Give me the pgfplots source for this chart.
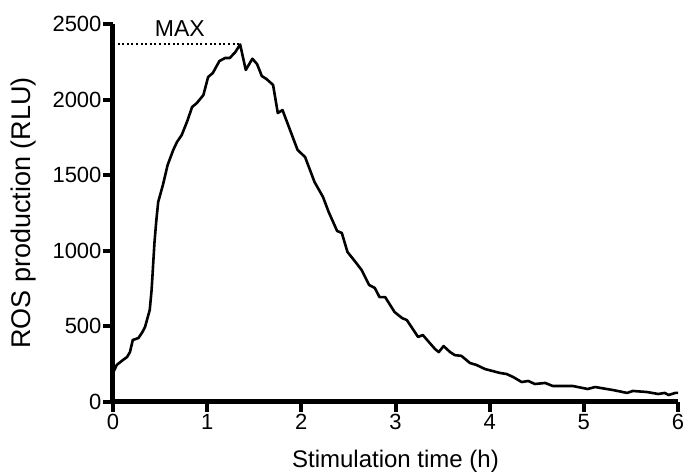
\documentclass[border=0pt]{standalone}
\usepackage{fontspec}
\setmainfont{Liberation Sans}
\usepackage{pgfplots}
\pgfplotsset{compat=1.18}
\usetikzlibrary{calc}

\begin{document}
\begin{tikzpicture}
\begin{axis}[name=ax,width=565pt,height=378pt,scale only axis,
xmin=0,xmax=6,ymin=0,ymax=2500,
xtick={0,1,2,3,4,5,6},ytick={0,500,1000,1500,2000,2500},
axis lines*=left,clip=false,
axis line style={line width=5pt,black},
tick align=outside,major tick length=10pt,
tick style={line width=4pt,black},
/pgf/number format/assume math mode=true,
tick label style={font=\fontsize{22}{26}\selectfont},
xticklabel style={yshift=1pt},
yticklabel style={xshift=2pt},
xlabel={Stimulation time (h)},ylabel={ROS production (RLU)},
xlabel style={font=\fontsize{24}{28}\selectfont,yshift=-13pt},
ylabel style={font=\fontsize{27}{31}\selectfont,yshift=10pt},
scaled y ticks=false,
/pgf/number format/1000 sep={}]
\addplot[black,line width=2.6pt,line join=round] coordinates {
(0.00,192)(0.04,245)(0.10,275)(0.15,298)(0.18,330)(0.21,410)(0.27,423)
(0.31,460)(0.34,496)(0.39,608)(0.41,741)(0.44,1051)(0.46,1200)(0.48,1323)
(0.53,1435)(0.58,1567)(0.64,1667)(0.68,1720)(0.73,1766)(0.79,1860)
(0.84,1951)(0.89,1977)(0.96,2030)(1.01,2149)(1.06,2176)(1.13,2255)
(1.19,2275)(1.24,2275)(1.30,2315)(1.35,2365)(1.41,2196)(1.48,2270)
(1.53,2235)(1.58,2156)(1.63,2136)(1.70,2097)(1.75,1911)(1.80,1931)
(1.88,1799)(1.96,1667)(2.04,1620)(2.14,1455)(2.23,1356)(2.29,1257)
(2.38,1131)(2.43,1118)(2.49,992)(2.57,930)(2.64,873)(2.72,774)
(2.78,754)(2.83,694)(2.89,694)(2.99,595)(3.07,555)(3.12,542)
(3.24,430)(3.29,443)(3.42,350)(3.46,330)(3.51,370)(3.58,330)
(3.63,310)(3.70,305)(3.79,258)(3.86,245)(3.95,218)(4.03,205)
(4.11,192)(4.18,185)(4.25,165)(4.34,132)(4.41,139)(4.48,119)
(4.59,126)(4.67,106)(4.88,106)(5.04,86)(5.12,99)(5.31,79)
(5.46,60)(5.52,73)(5.67,66)(5.79,53)(5.86,60)(5.90,46)(5.97,60)(6.00,60)};
\addplot[black,line width=2pt,dash pattern=on 2pt off 2.6pt] coordinates {(0,2368)(1.35,2368)};
\node[font=\fontsize{23}{27}\selectfont,anchor=base] at (axis cs:0.71,2414) {MAX};
\end{axis}
\pgfresetboundingbox
\path ($(ax.south west)+(-113pt,-73pt)$) rectangle ($(ax.north east)+(6pt,24pt)$);
\end{tikzpicture}
\end{document}
